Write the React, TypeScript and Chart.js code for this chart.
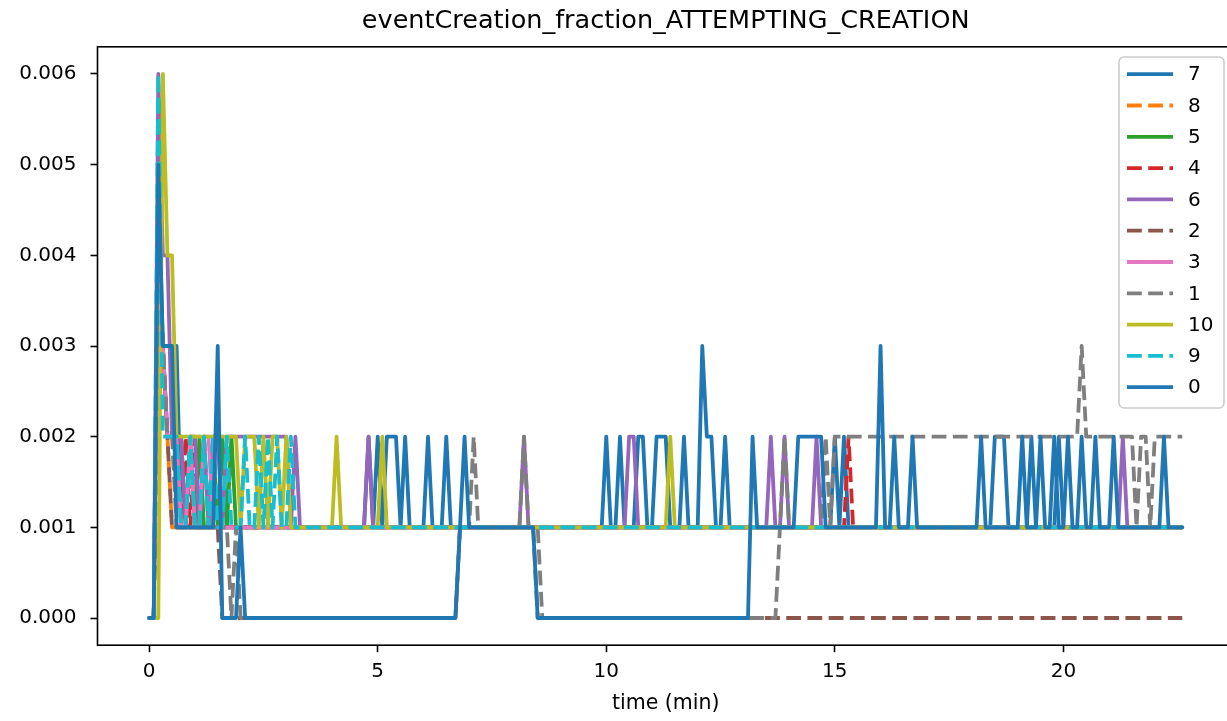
import React, { useEffect, useRef } from "react";
import { Chart, registerables } from "chart.js";

Chart.register(...registerables);

// ---------------- data ----------------
// sampling step of every series (minutes)
const SAMPLE_STEP_MIN = 0.1;
// series values are written in units of 0.001
const VALUE_UNIT = 0.001;

const SERIES_LABELS = ["7", "8", "5", "4", "6", "2", "3", "1", "10", "9", "0"];

const S7 = [
  0,0,4,3,3,3,3,1,1,1,1,1,1,1,1,1,1,1,1,1,
  1,1,1,1,1,1,1,1,1,1,1,1,1,1,1,1,1,1,1,1,
  1,1,1,1,1,1,1,1,2,1,2,1,2,2,2,1,2,1,1,1,
  1,2,1,1,1,2,1,1,1,1,1,1,1,1,1,1,1,1,1,1,
  1,1,1,1,1,1,1,1,1,1,1,1,1,1,1,1,1,1,1,1,
  2,1,1,2,1,1,1,2,2,1,1,2,2,2,1,1,1,2,1,1,
  1,3,2,2,1,1,2,1,1,1,1,1,1,1,1,1,1,1,1,1,
  1,1,1,1,1,1,1,1,1,1,2,1,2,1,1,1,1,1,1,1,
  1,1,1,1,1,1,1,1,1,1,1,1,1,1,1,1,1,1,1,1,
  1,1,1,1,1,2,2,2,1,1,1,1,1,2,1,1,1,1,1,2,
  1,1,1,1,1,1,1,1,1,1,1,1,1,1,1,1,1,1,1,1,
  1,1,1,1,1,1,1,
];

const S8 = [
  0,0,4,3,2,1,1,1,1,1,1,1,1,1,1,1,1,1,1,1,
  1,1,1,1,1,1,1,1,1,1,1,1,1,1,1,1,1,1,1,1,
  1,1,1,1,1,1,1,1,1,1,1,1,1,1,1,1,1,1,1,1,
  1,1,1,1,1,1,1,1,1,1,1,1,1,1,1,1,1,1,1,1,
  1,1,1,1,1,1,1,1,1,1,1,1,1,1,1,1,1,1,1,1,
  1,1,1,1,1,1,1,1,1,1,1,1,1,1,1,1,1,1,1,1,
  1,1,1,1,1,1,1,1,1,1,1,1,1,1,1,1,1,1,1,1,
  1,1,1,1,1,1,1,1,1,1,1,1,1,1,1,1,1,1,1,1,
  1,1,1,1,1,1,1,1,1,1,1,1,1,1,1,1,1,1,1,1,
  1,1,1,1,1,1,1,1,1,1,1,1,1,1,1,1,1,1,1,1,
  1,1,1,1,1,1,1,1,1,1,1,1,1,1,1,1,1,1,1,1,
  1,1,1,1,1,1,1,
];

const S5 = [
  0,0,5,3,2,2,2,2,1,2,1,2,1,1,2,1,2,1,2,1,
  1,1,1,1,1,1,1,1,1,1,1,1,1,1,1,1,1,1,1,1,
  1,1,1,1,1,1,1,1,1,1,1,1,1,1,1,1,1,1,1,1,
  1,1,1,1,1,1,1,1,1,1,1,1,1,1,1,1,1,1,1,1,
  1,1,1,1,1,1,1,1,1,1,1,1,1,1,1,1,1,1,1,1,
  1,1,1,1,1,1,1,1,1,1,1,1,1,1,1,1,1,1,1,1,
  1,1,1,1,1,1,1,1,1,1,1,1,1,1,1,1,1,1,1,1,
  1,1,1,1,1,1,1,1,1,1,1,1,1,1,1,1,1,1,1,1,
  1,1,1,1,1,1,1,1,1,1,1,1,1,1,1,1,1,1,1,1,
  1,1,1,1,1,1,1,1,1,1,1,1,1,1,1,1,1,1,1,1,
  1,1,1,1,1,1,1,1,1,1,1,1,1,1,1,1,1,1,1,1,
  1,1,1,1,1,1,1,
];

const S4 = [
  0,0,4,3,2,2,2,1,2,1,2,1,2,1,1,1,1,1,1,1,
  1,1,1,1,1,1,1,1,1,1,1,1,1,1,1,1,1,1,1,1,
  1,1,1,1,1,1,1,1,1,1,1,1,1,1,1,1,1,1,1,1,
  1,1,1,1,1,1,1,1,1,1,1,1,1,1,1,1,1,1,1,1,
  1,1,1,1,1,1,1,1,1,1,1,1,1,1,1,1,1,1,1,1,
  1,1,1,1,1,1,1,1,1,1,1,1,1,1,1,1,1,1,1,1,
  1,1,1,1,1,1,1,1,1,1,1,1,1,1,1,1,1,1,1,1,
  1,1,1,1,1,1,1,1,1,1,1,1,1,2,1,1,1,1,1,1,
  1,1,1,1,1,1,1,1,1,1,1,1,1,1,1,1,1,1,1,1,
  1,1,1,1,1,1,1,1,1,1,1,1,1,1,1,1,1,1,1,1,
  1,1,1,1,1,1,1,1,1,1,1,1,1,1,1,1,1,1,1,1,
  1,1,1,1,1,1,1,
];

const S6 = [
  0,0,6,4,4,2,2,2,1,2,2,1,2,1,2,2,1,2,2,2,
  2,2,2,2,2,2,2,2,2,2,2,1,2,1,1,1,1,1,1,1,
  1,1,1,1,1,1,1,1,2,1,1,1,1,1,1,1,1,1,1,1,
  1,1,1,1,1,1,1,1,1,1,1,1,1,1,1,1,1,1,1,1,
  1,1,2,1,1,1,1,1,1,1,1,1,1,1,1,1,1,1,1,1,
  1,1,1,1,1,2,2,1,1,1,1,1,1,1,1,1,1,1,1,1,
  1,1,1,1,1,1,1,1,1,1,1,1,1,1,1,1,2,1,1,2,
  1,1,1,1,1,1,2,1,1,1,1,1,1,1,1,1,1,1,1,1,
  1,1,1,1,1,1,1,1,1,1,1,1,1,1,1,1,1,1,1,1,
  1,1,1,1,1,1,1,1,1,1,1,1,1,1,1,1,1,1,1,1,
  1,1,1,1,1,1,1,1,1,1,1,1,1,2,1,1,1,1,1,1,
  1,1,1,1,1,1,1,
];

const S2 = [
  0,0,3,3,2,1,1,1,1,1,1,1,1,1,1,1,0,0,0,0,
  0,0,0,0,0,0,0,0,0,0,0,0,0,0,0,0,0,0,0,0,
  0,0,0,0,0,0,0,0,0,0,0,0,0,0,0,0,0,0,0,0,
  0,0,0,0,0,0,0,0,1,1,1,1,1,1,1,1,1,1,1,1,
  1,1,1,1,1,0,0,0,0,0,0,0,0,0,0,0,0,0,0,0,
  0,0,0,0,0,0,0,0,0,0,0,0,0,0,0,0,0,0,0,0,
  0,0,0,0,0,0,0,0,0,0,0,0,0,0,0,0,0,0,0,0,
  0,0,0,0,0,0,0,0,0,0,0,0,0,0,0,0,0,0,0,0,
  0,0,0,0,0,0,0,0,0,0,0,0,0,0,0,0,0,0,0,0,
  0,0,0,0,0,0,0,0,0,0,0,0,0,0,0,0,0,0,0,0,
  0,0,0,0,0,0,0,0,0,0,0,0,0,0,0,0,0,0,0,0,
  0,0,0,0,0,0,0,
];

const S3 = [
  0,0,4,3,2,2,2,1,1,2,1,1,2,2,1,1,1,1,1,1,
  1,1,1,1,1,1,1,1,1,1,1,1,1,1,1,1,1,1,1,1,
  1,1,1,1,1,1,1,1,1,1,1,1,1,1,1,1,1,1,1,1,
  1,1,1,1,1,1,1,1,1,1,1,1,1,1,1,1,1,1,1,1,
  1,1,1,1,1,1,1,1,1,1,1,1,1,1,1,1,1,1,1,1,
  1,1,1,1,1,1,1,1,1,1,1,1,1,1,1,1,1,1,1,1,
  1,1,1,1,1,1,1,1,1,1,1,1,1,1,1,1,1,1,1,1,
  1,1,1,1,1,1,1,1,1,1,1,1,1,1,1,1,1,1,1,1,
  1,1,1,1,1,1,1,1,1,1,1,1,1,1,1,1,1,1,1,1,
  1,1,1,1,1,1,1,1,1,1,1,1,1,1,1,1,1,1,1,1,
  1,1,1,1,1,1,1,1,1,1,1,1,1,1,1,1,1,1,1,1,
  1,1,1,1,1,1,1,
];

const S1 = [
  0,0,4,3,2,2,1,1,1,1,1,1,1,1,1,1,1,1,0,1,
  0,0,0,0,0,0,0,0,0,0,0,0,0,0,0,0,0,0,0,0,
  0,0,0,0,0,0,0,0,0,0,0,0,0,0,0,0,0,0,0,0,
  0,0,0,0,0,0,0,0,1,1,1,2,1,1,1,1,1,1,1,1,
  1,1,2,1,1,1,0,0,0,0,0,0,0,0,0,0,0,0,0,0,
  0,0,0,0,0,0,0,0,0,0,0,0,0,0,0,0,0,0,0,0,
  0,0,0,0,0,0,0,0,0,0,0,0,0,0,0,0,0,0,1,2,
  1,1,1,1,1,1,1,1,2,1,2,2,2,2,2,2,2,2,2,2,
  2,2,2,2,2,2,2,2,2,2,2,2,2,2,2,2,2,2,2,2,
  2,2,2,2,2,2,2,2,2,2,2,2,2,2,2,2,2,2,2,2,
  2,2,2,2,3,2,2,2,2,2,2,2,2,2,2,2,1,2,2,1,
  2,2,2,2,2,2,2,
];

const S10 = [
  0,0,0,6,4,4,2,2,2,2,2,2,2,2,2,2,2,2,2,2,
  1,2,2,2,1,2,1,2,2,1,2,1,1,1,1,1,1,1,1,1,
  1,2,1,1,1,1,1,1,1,1,1,2,1,1,1,1,1,1,1,1,
  1,1,1,1,1,1,1,1,1,1,1,1,1,1,1,1,1,1,1,1,
  1,1,1,1,1,1,1,1,1,1,1,1,1,1,1,1,1,1,1,1,
  1,1,1,1,1,1,1,1,1,1,1,1,1,1,2,1,1,1,1,1,
  1,1,1,1,1,1,1,1,1,1,1,1,1,1,1,1,1,1,1,1,
  1,1,1,1,1,1,1,1,1,1,1,1,1,1,1,1,1,1,1,1,
  1,1,1,1,1,1,1,1,1,1,1,1,1,1,1,1,1,1,1,1,
  1,1,1,1,1,1,1,1,1,1,1,1,1,1,1,1,1,1,1,1,
  1,1,1,1,1,1,1,1,1,1,1,1,1,1,1,1,1,1,1,1,
  1,1,1,1,1,1,1,
];

const S9 = [
  0,0,6,2,2,2,2,1,1,2,1,1,2,1,2,1,1,2,1,1,
  1,2,1,1,2,1,2,1,2,1,1,2,1,1,1,1,1,1,1,1,
  1,1,1,1,1,1,1,1,1,1,1,1,1,1,1,1,1,1,1,1,
  1,1,1,1,1,1,1,1,1,1,1,1,1,1,1,1,1,1,1,1,
  1,1,1,1,1,1,1,1,1,1,1,1,1,1,1,1,1,1,1,1,
  1,1,1,1,1,1,1,1,1,1,1,1,1,1,1,1,1,1,1,1,
  1,1,1,1,1,1,1,1,1,1,1,1,1,1,1,1,1,1,1,1,
  1,1,1,1,1,1,1,1,1,1,1,1,1,1,1,1,1,1,1,1,
  1,1,1,1,1,1,1,1,1,1,1,1,1,1,1,1,1,1,1,1,
  1,1,1,1,1,1,1,1,1,1,1,1,1,1,1,1,1,1,1,1,
  1,1,1,1,1,1,1,1,1,1,1,1,1,1,1,1,1,1,1,1,
  1,1,1,1,1,1,1,
];

const S0 = [
  0,0,5,3,3,3,1,1,1,1,1,1,1,1,1,3,0,0,0,0,
  1,0,0,0,0,0,0,0,0,0,0,0,0,0,0,0,0,0,0,0,
  0,0,0,0,0,0,0,0,0,0,0,0,0,0,0,0,0,0,0,0,
  0,0,0,0,0,0,0,0,1,2,1,1,1,1,1,1,1,1,1,1,
  1,1,1,1,1,0,0,0,0,0,0,0,0,0,0,0,0,0,0,0,
  0,0,0,0,0,0,0,0,0,0,0,0,0,0,0,0,0,0,0,0,
  0,0,0,0,0,0,0,0,0,0,0,0,2,1,1,1,1,1,1,1,
  1,1,2,2,2,2,2,2,1,1,1,1,1,1,1,1,1,1,1,1,
  3,1,1,2,1,1,1,2,1,1,1,1,1,1,1,1,1,1,1,1,
  1,1,2,1,1,1,1,1,1,1,1,2,1,1,1,2,1,1,2,1,
  1,2,1,1,2,1,1,2,1,1,1,2,1,1,1,1,1,1,1,1,
  1,1,2,1,1,1,1,
];

const SERIES_VALUES = [S7, S8, S5, S4, S6, S2, S3, S1, S10, S9, S0];

const X_TICKS = [0, 5, 10, 15, 20];
const Y_TICKS = [0, 0.001, 0.002, 0.003, 0.004, 0.005, 0.006];

const TITLE = "eventCreation_fraction_ATTEMPTING_CREATION";
const X_LABEL = "time (min)";

// ---------------- style ----------------
const SERIES_COLORS = [
  "#1f77b4", "#ff7f0e", "#2ca02c", "#d62728", "#9467bd", "#8c564b",
  "#e377c2", "#7f7f7f", "#bcbd22", "#17becf", "#1f77b4",
];
const SERIES_DASHED = [false, true, false, true, false, true, false, true, false, true, false];

const FONT = "'DejaVu Sans', 'Liberation Sans', sans-serif";
const CANVAS_W = 1250;
const CANVAS_H = 721;
const PLOT_LEFT = 97.5;
const PLOT_RIGHT = 1233.9;
const PLOT_TOP = 46.8;
const PLOT_BOTTOM = 645.2;
const X_MIN = -1.13;
const X_MAX = 23.73;
const Y_MIN = -0.0003;
const Y_MAX = 0.0063;
const LINE_W = 3.8;
const DASH = [14.8, 6.4];
const TICK_LEN = 7;
const SPINE_W = 1.6;

const decorPlugin = {
  id: "decor",
  afterDatasetsDraw(chart: any) {
    const { ctx, chartArea: a } = chart;
    ctx.save();
    // spines
    ctx.strokeStyle = "#000";
    ctx.lineWidth = SPINE_W;
    ctx.strokeRect(a.left, a.top, a.right - a.left, a.bottom - a.top);

    // title and x label
    ctx.fillStyle = "#000";
    ctx.textAlign = "center";
    ctx.textBaseline = "middle";
    ctx.font = `25.5px ${FONT}`;
    ctx.fillText(TITLE, (a.left + a.right) / 2, 21);
    ctx.font = `20.5px ${FONT}`;
    ctx.fillText(X_LABEL, (a.left + a.right) / 2, 704);

    // legend
    const bx = 1119, by = 57, bw = 105, bh = 351, r = 5;
    ctx.beginPath();
    ctx.moveTo(bx + r, by);
    ctx.lineTo(bx + bw - r, by);
    ctx.arcTo(bx + bw, by, bx + bw, by + r, r);
    ctx.lineTo(bx + bw, by + bh - r);
    ctx.arcTo(bx + bw, by + bh, bx + bw - r, by + bh, r);
    ctx.lineTo(bx + r, by + bh);
    ctx.arcTo(bx, by + bh, bx, by + bh - r, r);
    ctx.lineTo(bx, by + r);
    ctx.arcTo(bx, by, bx + r, by, r);
    ctx.closePath();
    ctx.fillStyle = "rgba(255,255,255,0.8)";
    ctx.fill();
    ctx.strokeStyle = "#cccccc";
    ctx.lineWidth = 1.6;
    ctx.stroke();

    const datasets = chart.data.datasets;
    ctx.font = `20px ${FONT}`;
    ctx.textAlign = "left";
    ctx.textBaseline = "middle";
    datasets.forEach((ds: any, k: number) => {
      const y = 74.2 + k * 31.3;
      ctx.beginPath();
      ctx.setLineDash(ds.borderDash || []);
      ctx.lineCap = "butt";
      ctx.strokeStyle = ds.borderColor;
      ctx.lineWidth = LINE_W;
      ctx.moveTo(1127, y);
      ctx.lineTo(1173, y);
      ctx.stroke();
      ctx.setLineDash([]);
      ctx.fillStyle = "#000";
      ctx.fillText(ds.label, 1188, y + 1);
    });
    ctx.restore();
  },
};

export default function App() {
  const canvasRef = useRef<HTMLCanvasElement | null>(null);

  useEffect(() => {
    const canvas = canvasRef.current;
    if (!canvas) return;
    const n = SERIES_LABELS.length;
    const datasets = SERIES_LABELS.map((label, i) => ({
      label,
      data: SERIES_VALUES[i].map((v, k) => ({ x: k * SAMPLE_STEP_MIN, y: v * VALUE_UNIT })),
      borderColor: SERIES_COLORS[i],
      backgroundColor: SERIES_COLORS[i],
      borderWidth: LINE_W,
      borderDash: SERIES_DASHED[i] ? DASH : [],
      borderCapStyle: SERIES_DASHED[i] ? "butt" : "round",
      borderJoinStyle: "round",
      pointRadius: 0,
      pointHoverRadius: 0,
      fill: false,
      tension: 0,
      order: n - 1 - i,
    }));

    const chart = new Chart(canvas, {
      type: "line",
      data: { datasets } as any,
      options: {
        responsive: false,
        maintainAspectRatio: false,
        devicePixelRatio: 1,
        animation: false,
        events: [],
        layout: {
          padding: { left: 0, top: PLOT_TOP, right: CANVAS_W - PLOT_RIGHT, bottom: 0 },
        },
        plugins: {
          legend: { display: false },
          tooltip: { enabled: false },
          title: { display: false },
        },
        scales: {
          x: {
            type: "linear",
            min: X_MIN,
            max: X_MAX,
            afterBuildTicks: (s: any) => {
              s.ticks = X_TICKS.map((v) => ({ value: v }));
            },
            afterFit: (s: any) => {
              s.height = CANVAS_H - PLOT_BOTTOM;
            },
            grid: {
              display: true,
              drawOnChartArea: false,
              drawTicks: true,
              tickLength: TICK_LEN,
              tickWidth: SPINE_W,
              tickColor: "#000",
            },
            border: { display: false },
            ticks: {
              color: "#000",
              font: { family: FONT, size: 20 },
              padding: 8,
              maxRotation: 0,
              autoSkip: false,
              callback: (v: any) => String(v),
            },
          },
          y: {
            type: "linear",
            min: Y_MIN,
            max: Y_MAX,
            afterBuildTicks: (s: any) => {
              s.ticks = Y_TICKS.map((v) => ({ value: v }));
            },
            afterFit: (s: any) => {
              s.width = PLOT_LEFT;
            },
            grid: {
              display: true,
              drawOnChartArea: false,
              drawTicks: true,
              tickLength: TICK_LEN,
              tickWidth: SPINE_W,
              tickColor: "#000",
            },
            border: { display: false },
            ticks: {
              color: "#000",
              font: { family: FONT, size: 20 },
              padding: 14,
              autoSkip: false,
              callback: (v: any) => Number(v).toFixed(3),
            },
          },
        },
      } as any,
      plugins: [decorPlugin],
    });
    return () => chart.destroy();
  }, []);

  return (
    <div
      style={{
        position: "fixed",
        left: 0,
        top: 0,
        width: 1227,
        height: 721,
        overflow: "hidden",
        background: "#fff",
      }}
    >
      <canvas
        ref={canvasRef}
        width={CANVAS_W}
        height={CANVAS_H}
        style={{ display: "block", width: CANVAS_W, height: CANVAS_H }}
      />
    </div>
  );
}
